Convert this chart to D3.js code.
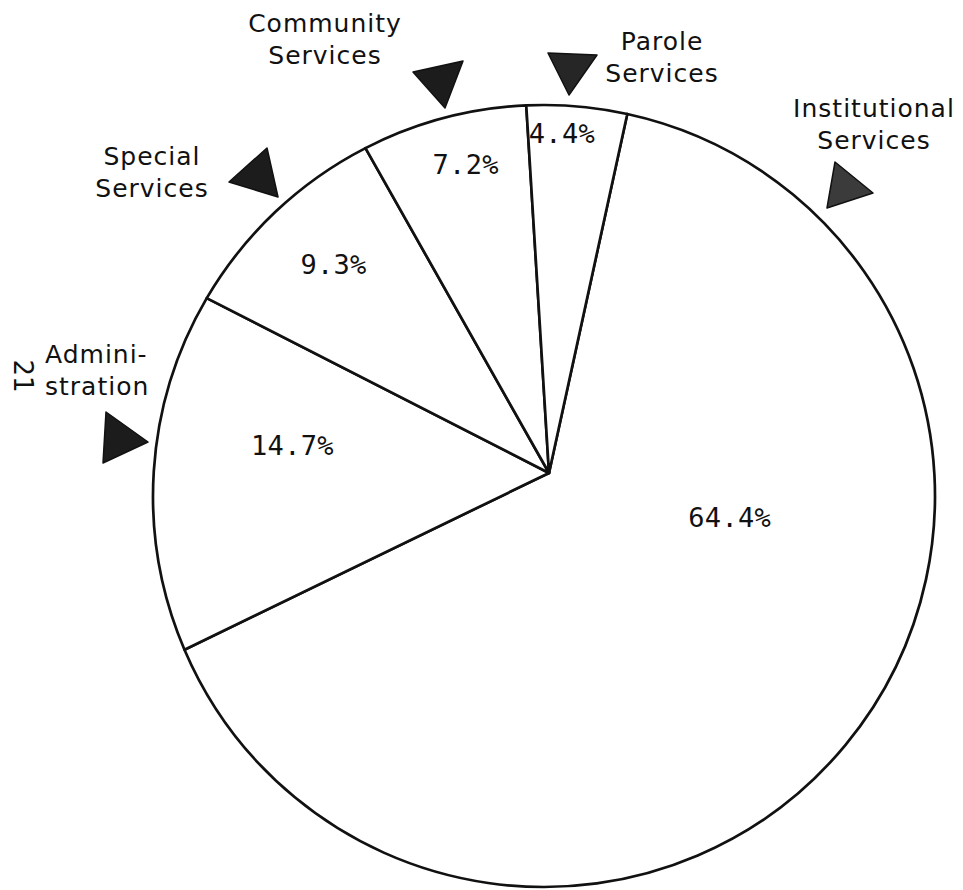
<!DOCTYPE html>
<html>
<head>
<meta charset="utf-8">
<script src="https://cdn.jsdelivr.net/npm/d3@7"></script>
<style>
  html, body { margin: 0; padding: 0; background: #fff; }
  svg { display: block; }
</style>
</head>
<body>
<svg id="chart" width="963" height="890"></svg>
<script>
// ---- data ----
const categories = ["Institutional Services", "Administration", "Special Services", "Community Services", "Parole Services"];
const shares = [64.4, 14.7, 9.3, 7.2, 4.4];
const shareLabels = ["64.4%", "14.7%", "9.3%", "7.2%", "4.4%"];
const labelLines = [["Institutional", "Services"], ["Admini-", "stration"], ["Special", "Services"], ["Community", "Services"], ["Parole", "Services"]];
const pageNumber = "21";

// ---- layout (hand-drawn original: outline circle and apex are slightly offset) ----
const W = 963, H = 890;
const circle = { cx: 544, cy: 496, r: 391 };
const apex = { x: 549, y: 473 };
const startDeg = 12.3;
// percentage label placement: angle nudge (deg) relative to slice middle, distance from apex
const pctPlace = [
  { dA: -24.5, d: 186 },
  { dA: 5.5, d: 258 },
  { dA: 0.3, d: 300 },
  { dA: 1.4, d: 320 },
  { dA: -2.2, d: 340 }
];
// outside category labels: anchor point, text-anchor
const namePlace = [
  { x: 874, y: 117, anchor: "middle" },
  { x: 45, y: 363, anchor: "start" },
  { x: 152, y: 165, anchor: "middle" },
  { x: 325, y: 32, anchor: "middle" },
  { x: 662, y: 50, anchor: "middle" }
];
const lineGap = 32;
// pointer triangles next to each label
const pointers = [
  { pts: [[835,162],[873,193],[827,208]], fill: "#3b3b3b" },
  { pts: [[106,412],[148,442],[103,463]], fill: "#1c1c1c" },
  { pts: [[267,148],[278,197],[229,182]], fill: "#1c1c1c" },
  { pts: [[413,72],[463,61],[445,108]], fill: "#1c1c1c" },
  { pts: [[548,53],[597,55],[569,95]], fill: "#262626" }
];

const svg = d3.select("#chart");
const toRad = d => d * Math.PI / 180;

const pie = d3.pie().sort(null).value(d => d)
  .startAngle(toRad(startDeg)).endAngle(toRad(startDeg) + 2 * Math.PI);
const arcs = pie(shares);

// point where a ray from the apex (d3 angle convention) meets the outline circle
function hit(theta) {
  const ux = Math.sin(theta), uy = -Math.cos(theta);
  const dx = apex.x - circle.cx, dy = apex.y - circle.cy;
  const b = dx * ux + dy * uy;
  const c = dx * dx + dy * dy - circle.r * circle.r;
  const t = -b + Math.sqrt(b * b - c);
  return [apex.x + t * ux, apex.y + t * uy];
}
function slicePath(a) {
  const p0 = hit(a.startAngle), p1 = hit(a.endAngle);
  const g0 = Math.atan2(p0[1] - circle.cy, p0[0] - circle.cx);
  const g1 = Math.atan2(p1[1] - circle.cy, p1[0] - circle.cx);
  let delta = g1 - g0; while (delta < 0) delta += 2 * Math.PI;
  const large = delta > Math.PI ? 1 : 0;
  return `M${apex.x},${apex.y}L${p0[0]},${p0[1]}A${circle.r},${circle.r} 0 ${large} 1 ${p1[0]},${p1[1]}Z`;
}

const g = svg.append("g");
g.selectAll("path.slice").data(arcs).enter().append("path")
  .attr("class", "slice")
  .attr("d", slicePath)
  .attr("fill", "#fff")
  .attr("stroke", "#111")
  .attr("stroke-width", 2.7)
  .attr("stroke-linejoin", "round");

// percentage labels
g.selectAll("text.pct").data(arcs).enter().append("text")
  .attr("class", "pct")
  .attr("x", (a, i) => apex.x + pctPlace[i].d * Math.sin((a.startAngle + a.endAngle) / 2 + toRad(pctPlace[i].dA)))
  .attr("y", (a, i) => apex.y - pctPlace[i].d * Math.cos((a.startAngle + a.endAngle) / 2 + toRad(pctPlace[i].dA)))
  .attr("dy", "0.36em")
  .attr("text-anchor", "middle")
  .attr("font-family", "'DejaVu Sans Mono', monospace")
  .attr("font-size", 27)
  .attr("letter-spacing", 0.3)
  .attr("fill", "#111")
  .text((a, i) => shareLabels[i]);

// category labels
const names = svg.append("g").selectAll("text.name").data(categories).enter().append("text")
  .attr("class", "name")
  .attr("x", (d, i) => namePlace[i].x)
  .attr("y", (d, i) => namePlace[i].y)
  .attr("text-anchor", (d, i) => namePlace[i].anchor)
  .attr("font-family", "'DejaVu Sans', sans-serif")
  .attr("font-size", 25)
  .attr("letter-spacing", 1)
  .attr("fill", "#111");
names.each(function(d, i) {
  d3.select(this).selectAll("tspan").data(labelLines[i]).enter().append("tspan")
    .attr("x", namePlace[i].x)
    .attr("dy", (l, j) => j === 0 ? 0 : lineGap)
    .text(l => l);
});

// pointer triangles
svg.append("g").selectAll("polygon").data(pointers).enter().append("polygon")
  .attr("points", p => p.pts.map(q => q.join(",")).join(" "))
  .attr("fill", p => p.fill)
  .attr("stroke", "#111")
  .attr("stroke-width", 1.5)
  .attr("stroke-linejoin", "round");

// page number (rotated, from scanned page)
svg.append("text")
  .attr("transform", "translate(14,376) rotate(90)")
  .attr("text-anchor", "middle")
  .attr("font-family", "'DejaVu Sans', sans-serif")
  .attr("font-size", 26)
  .attr("fill", "#111")
  .text(pageNumber);
</script>
</body>
</html>
